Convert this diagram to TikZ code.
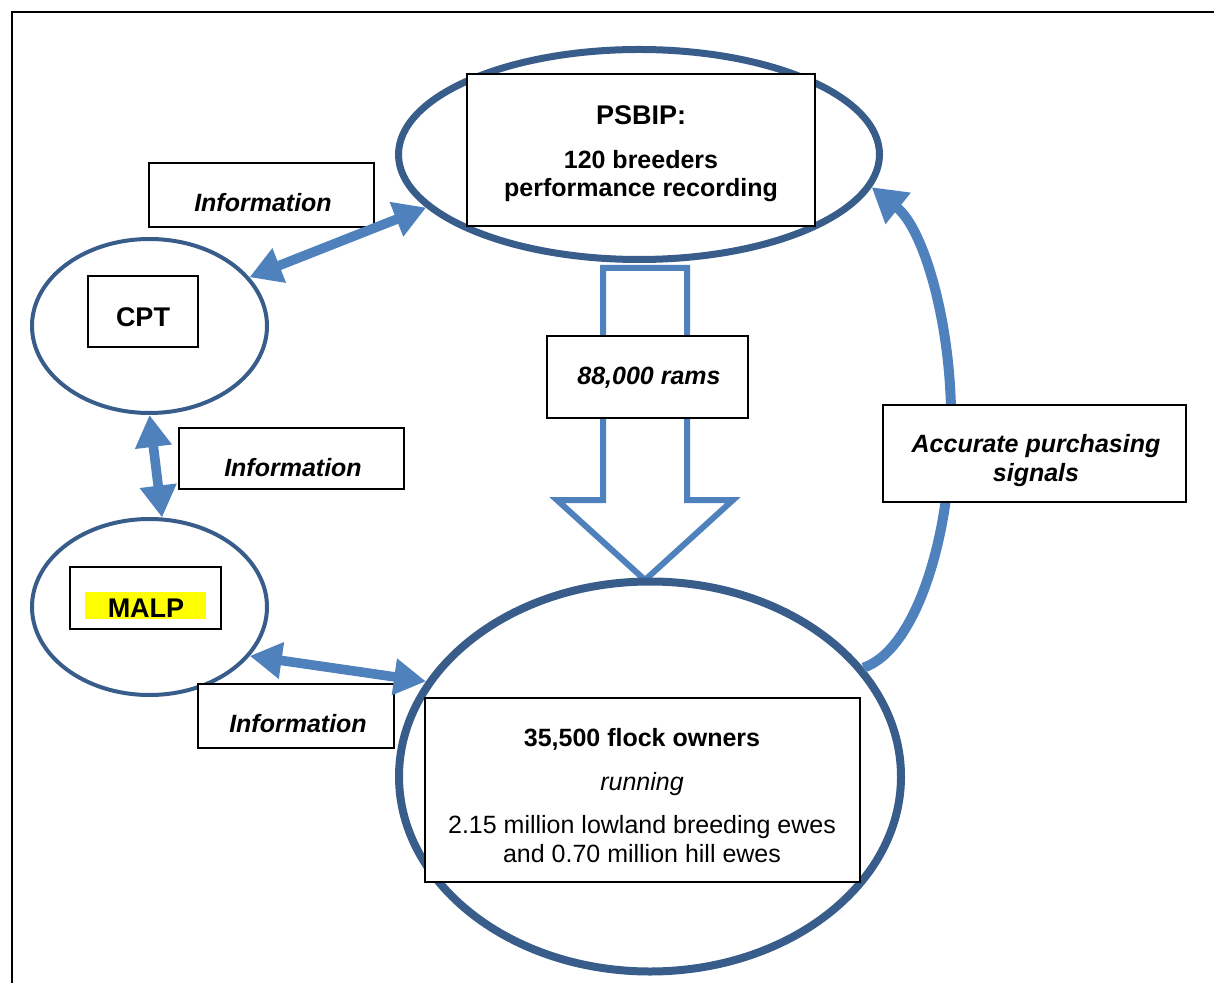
\documentclass[tikz,border=0pt]{standalone}
\usepackage{fontspec}
\setmainfont{Liberation Sans}
\usetikzlibrary{arrows.meta,shapes.geometric}
\definecolor{lblue}{HTML}{4F81BD}
\definecolor{dblue}{HTML}{385D8A}
\definecolor{hilite}{HTML}{FFFF00}
\begin{document}
\begin{tikzpicture}[x=0.5pt,y=-0.5pt,
  box/.style={draw=black,line width=1pt,fill=white,rectangle,inner sep=0pt},
  oval/.style={draw=dblue,ellipse,inner sep=0pt,fill=white},
  txt/.style={anchor=base,inner sep=0pt,font=\fontsize{12.5}{14.5}\selectfont},
  btxt/.style={txt,font=\fontsize{12.5}{14.5}\selectfont\bfseries},
  bitxt/.style={txt,font=\fontsize{12.5}{14.5}\selectfont\bfseries\itshape},
  ttl/.style={txt,font=\fontsize{13.5}{16}\selectfont\bfseries},
  dbl/.style={draw=lblue,line width=4.8pt,
    arrows={Triangle[width=17.5pt,length=16pt]-Triangle[width=17.5pt,length=16pt]}},
  sig/.style={draw=lblue,line width=5pt,arrows={-Triangle[width=19pt,length=17pt]}},
  hollow/.style={draw=lblue,line width=3pt,fill=white,line join=miter}
]
\useasboundingbox (0,0) rectangle (1214,983);
\clip (0,0) rectangle (1214,983);
% frame
\draw[line width=1pt] (12,12) rectangle (1260,1030);

% ovals
\node[oval,line width=3.5pt,minimum width=240.5pt,minimum height=105pt] (psbip) at (639,154.5) {};
\node[oval,line width=2pt,minimum width=117.5pt,minimum height=87pt] (cpt) at (149.5,326) {};
\node[oval,line width=2pt,minimum width=117.5pt,minimum height=88pt] (malp) at (149.5,607) {};

% big hollow arrow (88,000 rams)
\draw[hollow] (603,268) -- (687,268) -- (687,500) -- (733,500) -- (645,580)
  -- (557,500) -- (603,500) -- cycle;

\node[oval,line width=4pt,minimum width=251pt,minimum height=195pt] (flock) at (650,776.5) {};

% accurate purchasing signals arc
\draw[sig] (flock.27.5) .. controls (915,650) and (950,540) .. (951,430)
  .. controls (953,330) and (925,230) .. (psbip.-8.4);

% boxes
\node[box,minimum width=174pt,minimum height=76pt] (psbipbox) at (641,150) {};
\node[ttl] (psbipt) at (641,125) {PSBIP:};
\node[btxt] (psbipl1) at (641,169) {120 breeders};
\node[btxt] (psbipl2) at (641,197) {performance recording};

\node[box,minimum width=55pt,minimum height=35.5pt] (cptbox) at (143,311.5) {};
\node[ttl] (cptt) at (143,327) {CPT};

\node[box,minimum width=75.5pt,minimum height=31pt] (malpbox) at (145.5,598) {};
\node[fill=hilite,inner sep=0pt,minimum width=60.5pt,minimum height=13.5pt] (malphl) at (145.5,605.5) {};
\node[ttl] (malpt) at (146,617) {MALP};

\node[box,minimum width=112.5pt,minimum height=32pt] (info1) at (261.5,195) {};
\node[bitxt] (info1t) at (263,212) {Information};

\node[box,minimum width=112.5pt,minimum height=30.5pt] (info2) at (291.5,458.5) {};
\node[bitxt] (info2t) at (293,476) {Information};

\node[box,minimum width=98pt,minimum height=32pt] (info3) at (296,716) {};
\node[bitxt] (info3t) at (298,732) {Information};

\node[box,minimum width=100.5pt,minimum height=41pt] (rams) at (647.5,377) {};
\node[bitxt] (ramst) at (649,385) {88,000 rams};

\node[box,minimum width=151.5pt,minimum height=48.5pt] (acc) at (1034.5,453.5) {};
\node[bitxt] (acct1) at (1036,452) {Accurate purchasing};
\node[bitxt] (acct2) at (1036,481) {signals};

\node[box,minimum width=217.5pt,minimum height=92pt] (flockbox) at (642.5,790) {};
\node[btxt] (flockt1) at (642,746) {35,500 flock owners};
\node[txt,font=\fontsize{12.5}{14.5}\selectfont\itshape] (flockt2) at (642,790) {running};
\node[txt] (flockt3) at (642,833) {2.15 million lowland breeding ewes};
\node[txt] (flockt4) at (642,862) {and 0.70 million hill ewes};

% information arrows
\draw[dbl] (cpt.26.5) -- (psbip.194.3);
\draw[dbl] (cpt.south) -- (malp.82);
\draw[dbl] (malp.-26.5) -- (flock.157.7);
\end{tikzpicture}
\end{document}
